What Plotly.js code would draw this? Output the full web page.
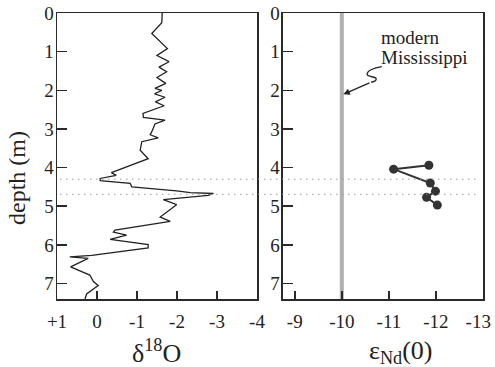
<!DOCTYPE html>
<html><head><meta charset="utf-8">
<script src="https://cdn.plot.ly/plotly-3.0.1.min.js"></script>
<style>html,body{margin:0;padding:0;background:#fff}</style>
</head><body><div id="chart" style="width:495px;height:367px"></div>
<script>
// δ18O record (left panel)
const depthO = [0.00,0.25,0.53,0.92,1.10,1.26,1.40,1.52,1.67,1.82,1.95,2.00,2.09,2.18,2.30,2.40,2.60,2.70,2.77,2.87,3.07,3.15,3.23,3.33,3.55,3.77,4.13,4.20,4.28,4.34,4.41,4.50,4.60,4.65,4.67,4.72,4.83,4.96,5.28,5.39,5.62,5.67,5.75,5.86,5.99,6.08,6.27,6.31,6.35,6.57,6.78,6.95,7.05,7.18,7.27,7.40];
const d18O   = [-1.63,-1.62,-1.37,-1.76,-1.50,-1.80,-1.55,-1.74,-1.50,-1.72,-1.45,-1.62,-1.44,-1.70,-1.46,-1.68,-1.15,-1.16,-1.70,-1.45,-1.37,-1.33,-1.53,-1.12,-1.08,-1.28,-0.36,-0.48,-0.08,-0.08,-0.83,-0.87,-1.99,-2.33,-2.91,-2.78,-1.66,-1.99,-1.58,-1.83,-0.45,-0.41,-0.74,-0.33,-1.28,-1.28,0.13,0.68,0.22,0.66,0.18,0.09,-0.03,0.13,0.26,0.30];
// εNd(0) record (right panel)
const depthNd = [3.94,4.04,4.40,4.61,4.77,4.97];
const epsNd   = [-11.85,-11.10,-11.88,-11.99,-11.80,-12.03];
const modernMississippi = -10;
const depthRange = [0, 7.4];
const dottedDepths = [4.30, 4.69];
// ticks
const yTicks = [0,1,2,3,4,5,6,7];
const xTicksO = [1,0,-1,-2,-3,-4];
const xTickTextO = ['+1','0','-1','-2','-3','-4'];
const xTicksNd = [-9,-10,-11,-12,-13];
const xTickTextNd = ['-9','-10','-11','-12','-13\u00a0\u00a0'];

const FF = '"Liberation Serif","Times New Roman",Times,serif';
const INK = '#2a2a2a';
const common = {
  showline:true, linecolor:INK, linewidth:1.5, mirror:true,
  ticks:'inside', tickcolor:INK, tickwidth:1.5,
  showgrid:false, zeroline:false, ticklabeloverflow:'allow',
  tickfont:{family:FF, size:19, color:'#222'}
};

const traces = [
  {x:d18O, y:depthO, xaxis:'x', yaxis:'y', mode:'lines',
   line:{color:'#222', width:1.3}, hoverinfo:'skip'},
  {x:[modernMississippi, modernMississippi], y:depthRange, xaxis:'x2', yaxis:'y2', mode:'lines',
   line:{color:'#b0b0b0', width:4}, hoverinfo:'skip'},
  {x:epsNd, y:depthNd, xaxis:'x2', yaxis:'y2', mode:'lines+markers',
   line:{color:'#333', width:2}, marker:{color:'#333', size:9}, hoverinfo:'skip'}
];

const shapes = dottedDepths.map(d => ({
  type:'line', xref:'paper', yref:'y', x0:0.007, x1:0.985, y0:d, y1:d,
  line:{color:'#999', width:1, dash:'1.5px,4.5px'}
}));
shapes.push({
  type:'path', xref:'x2', yref:'y2',
  path:'M -10.850,1.389 C -10.70,1.42 -10.52,1.48 -10.54,1.600 C -10.56,1.66 -10.72,1.64 -10.73,1.70 C -10.74,1.76 -10.68,1.78 -10.62,1.79',
  line:{color:'#222', width:1.3}
});

const annotations = [
  {xref:'x2', yref:'y2', x:-10.033, y:2.103, axref:'x2', ayref:'y2', ax:-10.62, ay:1.79,
   text:'', showarrow:true, arrowhead:2, arrowsize:1, arrowwidth:1.3, arrowcolor:'#222'},
  {xref:'paper', yref:'paper', x:0.756, y:0.9136, xanchor:'left', yanchor:'middle', showarrow:false,
   text:'modern', font:{family:FF, size:19, color:'#222'}},
  {xref:'paper', yref:'paper', x:0.756, y:0.8427, xanchor:'left', yanchor:'middle', showarrow:false,
   text:'Mississippi', font:{family:FF, size:19, color:'#222'}},
  {xref:'paper', yref:'paper', x:-0.0939, y:0.423, xanchor:'center', yanchor:'middle', showarrow:false,
   textangle:-90, text:'depth (m)', font:{family:FF, size:24, color:'#222'}},
  {xref:'paper', yref:'paper', x:0.2324, y:-0.185, xanchor:'center', yanchor:'middle', showarrow:false,
   text:'δ<sup>18</sup>O', font:{family:FF, size:26, color:'#222'}},
  {xref:'paper', yref:'paper', x:0.8075, y:-0.185, xanchor:'center', yanchor:'middle', showarrow:false,
   text:'ε<sub>Nd</sub>(0)', font:{family:FF, size:26, color:'#222'}}
];

const layout = {
  width:495, height:367,
  margin:{l:57, r:12, t:13, b:68, pad:0},
  paper_bgcolor:'#fff', plot_bgcolor:'#fff',
  showlegend:false,
  xaxis:Object.assign({}, common, {domain:[0,0.4695], range:[1,-4], anchor:'y',
    tickvals:xTicksO, ticktext:xTickTextO, ticklen:8, ticklabelstandoff:5}),
  xaxis2:Object.assign({}, common, {domain:[0.5305,1], range:[-8.75,-13], anchor:'y2',
    tickvals:xTicksNd, ticktext:xTickTextNd, ticklen:8, ticklabelstandoff:5}),
  yaxis:Object.assign({}, common, {range:[depthRange[1], depthRange[0]], anchor:'x',
    tickvals:yTicks, ticklen:10, ticklabelstandoff:-2}),
  yaxis2:Object.assign({}, common, {range:[depthRange[1], depthRange[0]], anchor:'x2',
    tickvals:yTicks, ticklen:10, ticklabelstandoff:-2}),
  shapes:shapes,
  annotations:annotations
};

Plotly.newPlot('chart', traces, layout, {staticPlot:true, displayModeBar:false});
</script>
</body></html>
